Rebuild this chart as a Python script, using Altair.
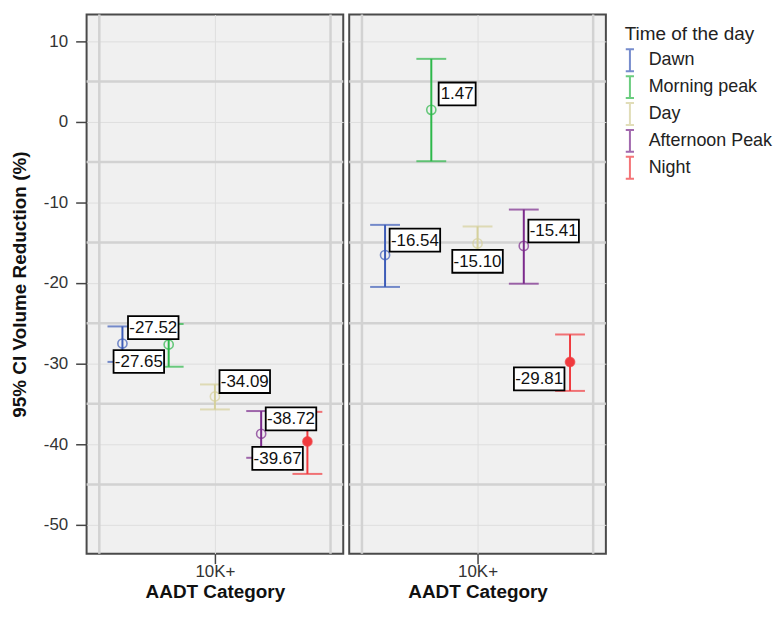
import altair as alt
import pandas as pd

# ---- data ----
times = ["Dawn", "Morning peak", "Day", "Afternoon Peak", "Night"]
colors = ["#3d5cb8", "#2db84a", "#d5d09b", "#7b2a8c", "#f03a3e"]
category = "10K+"

mean_a = [-27.52, -27.65, -34.09, -38.72, -39.67]
low_a = [-29.8, -30.4, -35.7, -41.7, -43.7]
high_a = [-25.4, -25.1, -32.6, -35.9, -36.0]

mean_b = [-16.54, 1.47, -15.10, -15.41, -29.81]
low_b = [-20.5, -4.9, -17.2, -20.1, -33.4]
high_b = [-12.8, 7.8, -13.0, -10.9, -26.4]

# label box offsets (pixels) relative to each point
label_dx_a = [31, -30, 30, 30, -30]
label_dy_a = [-16, 17, -15, -15, 17]
label_dx_b = [30, 26, 0, 30, -31]
label_dy_b = [-15, -16, 18, -15, 17]

y_ticks = [10, 0, -10, -20, -30, -40, -50]
y_half = [5, -5, -15, -25, -35, -45]
x_band_edges = [0.5, 5.5]
x_center = 3

FONT = "Liberation Sans"
W, H = 258, 542

color_scale = alt.Scale(domain=times, range=colors)
legend = alt.Legend(
    title="Time of the day",
    symbolType="M-1,-1H-0.25M-0.62,-1V1M-1,1H-0.25",
    symbolSize=484,
    symbolStrokeWidth=2,
    symbolFillColor="transparent",
    orient="none",
    legendX=541,
    legendY=11,
)


def X(field):
    return alt.X(
        f"{field}:Q",
        scale=alt.Scale(domain=[0.225, 5.775], nice=False, zero=False),
        axis=alt.Axis(
            values=[x_center],
            labelExpr=f"'{category}'",
            title="AADT Category",
            grid=True,
        ),
    )


def Y(field, show):
    ax = (
        alt.Axis(
            values=y_ticks,
            labelExpr="'' + datum.value",
            title="95% CI Volume Reduction (%)",
            grid=True,
        )
        if show
        else alt.Axis(values=y_ticks, labels=False, ticks=False, title=None, grid=True)
    )
    return alt.Y(
        f"{field}:Q",
        scale=alt.Scale(domain=[-53.6, 13.3], nice=False, zero=False),
        axis=ax,
    )


def panel(means, lows, highs, ldx, ldy, show_y):
    df = pd.DataFrame(
        {
            "time": times,
            "idx": list(range(1, len(times) + 1)),
            "mean": means,
            "low": lows,
            "high": highs,
            "label": [f"{m:.2f}" for m in means],
        }
    )
    base = alt.Chart(df)
    color = alt.Color("time:N", scale=color_scale, legend=legend, sort=times)

    hgrid = (
        alt.Chart(pd.DataFrame({"v": y_half}))
        .mark_rule(color="#d2d2d2", strokeWidth=2.5)
        .encode(y=Y("v", show_y))
    )
    vgrid = (
        alt.Chart(pd.DataFrame({"v": x_band_edges}))
        .mark_rule(color="#d2d2d2", strokeWidth=2.5)
        .encode(x=X("v"))
    )
    bars = base.mark_rule(strokeWidth=2).encode(
        x=X("idx"), y=Y("low", show_y), y2="high", color=color
    )
    cap_lo = base.mark_tick(orient="horizontal", size=30, thickness=2).encode(
        x=X("idx"), y=Y("low", show_y), color=color
    )
    cap_hi = base.mark_tick(orient="horizontal", size=30, thickness=2).encode(
        x=X("idx"), y=Y("high", show_y), color=color
    )
    pts = base.mark_point(size=85, strokeWidth=1.6, filled=False, shape="circle").encode(
        x=X("idx"), y=Y("mean", show_y), color=color
    )
    filled = (
        base.transform_filter(alt.datum.time == "Night")
        .mark_point(size=85, filled=True, opacity=1, shape="circle")
        .encode(x=X("idx"), y=Y("mean", show_y), color=color)
    )

    layers = [hgrid, vgrid, bars, cap_lo, cap_hi, pts, filled]
    for t, lab, dx, dy in zip(times, df["label"], ldx, ldy):
        w = 6.8 * len(lab) + 10
        one = base.transform_filter(alt.datum.time == t)
        box = one.mark_rect(
            fill="white",
            stroke="black",
            strokeWidth=1.8,
            xOffset=dx - w / 2,
            x2Offset=dx + w / 2,
            yOffset=dy - 11.5,
            y2Offset=dy + 11.5,
        ).encode(x=X("idx"), x2="idx", y=Y("mean", show_y), y2="mean")
        txt = one.mark_text(
            dx=dx, dy=dy + 0.5, fontSize=17, font=FONT, color="#111",
            align="center", baseline="middle",
        ).encode(x=X("idx"), y=Y("mean", show_y), text="label:N")
        layers += [box, txt]

    return alt.layer(*layers).properties(width=W, height=H)


left = panel(mean_a, low_a, high_a, label_dx_a, label_dy_a, True)
right = panel(mean_b, low_b, high_b, label_dx_b, label_dy_b, False)

chart = (
    alt.hconcat(left, right, spacing=0)
    .properties(padding={"left": 1, "top": 2, "right": 0, "bottom": 0})
    .configure_view(fill="#f0f0f0", stroke="#4a4a4a", strokeWidth=2)
    .configure_axis(
        domain=False,
        gridColor="#dedede",
        gridWidth=1,
        tickColor="#444",
        tickWidth=1.5,
        labelFont=FONT,
        labelFontSize=17,
        labelColor="#333",
        titleFont=FONT,
        titleFontSize=19,
        titleFontWeight="bold",
        titleColor="#111",
    )
    .configure_axisY(tickSize=11, labelPadding=8, titlePadding=14)
    .configure_axisX(tickSize=10, labelPadding=0, labelFontSize=17, titlePadding=3)
    .configure_legend(
        padding=0,
        titleFont=FONT,
        titleFontSize=19,
        titleFontWeight="normal",
        titleColor="#222",
        titlePadding=4,
        labelFont=FONT,
        labelFontSize=18,
        labelColor="#222",
        rowPadding=-3,
        labelOffset=0,
    )
)

chart.save("out.html", embed_options={"renderer": "svg", "actions": False})
